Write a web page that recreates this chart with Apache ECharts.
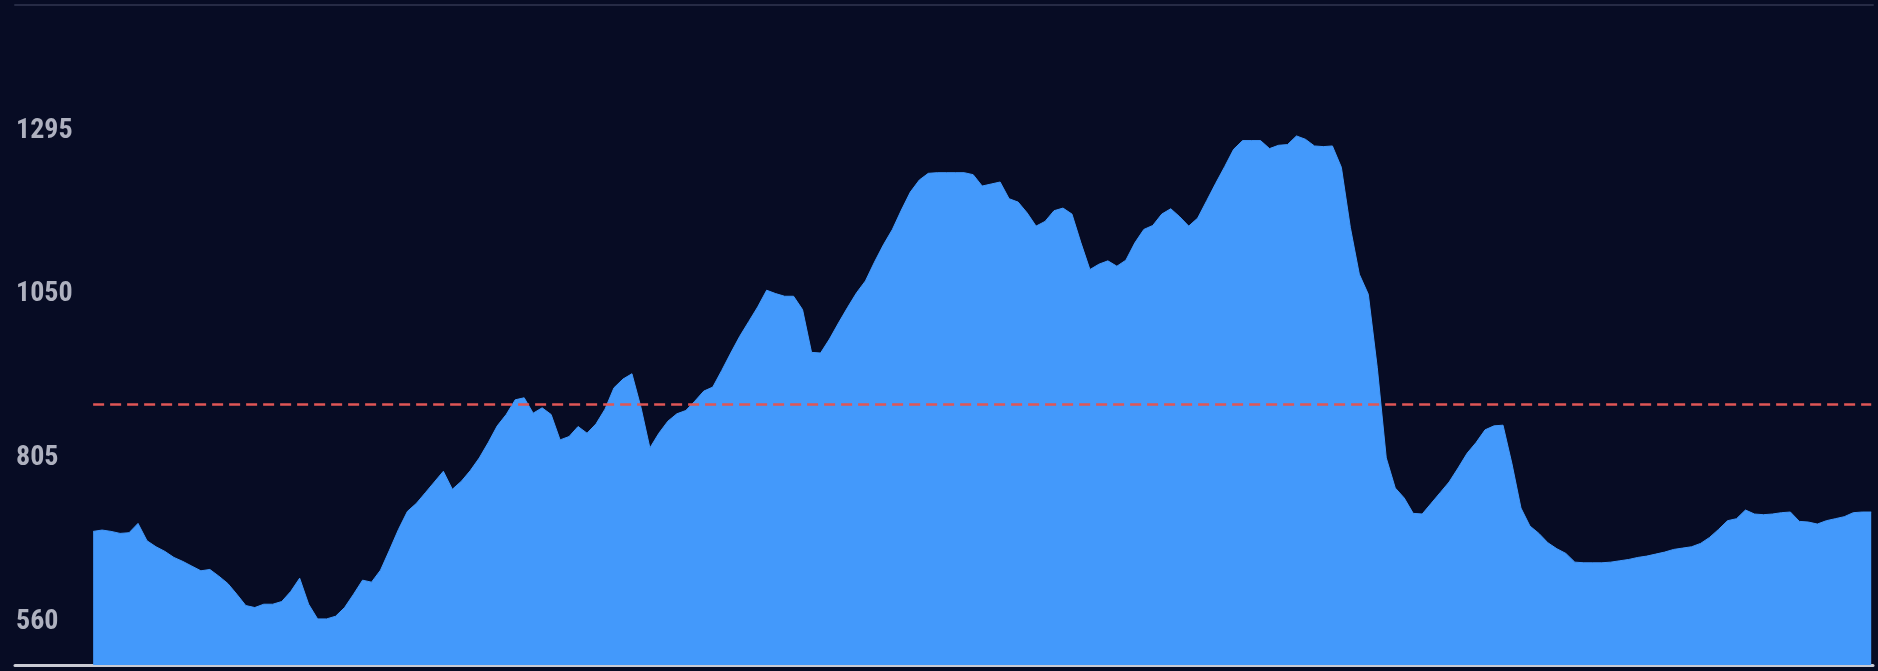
<!DOCTYPE html>
<html>
<head>
<meta charset="utf-8">
<title>area chart</title>
<script src="https://cdn.jsdelivr.net/npm/echarts@6/dist/echarts.min.js"></script>
<style>
  html, body { margin: 0; padding: 0; background: #070c24; }
  #main { width: 1878px; height: 671px; }
</style>
</head>
<body>
<div id="main"></div>
<script>
// values, left to right, evenly spaced
var values = [
  695, 697, 695, 692, 693, 707, 681, 672, 665, 656,
  650, 643, 636, 638, 628, 617, 601, 584, 581, 586,
  586, 590, 605, 625, 586, 564, 564, 568, 581, 601,
  622, 619, 637, 667, 698, 725, 737, 753, 769, 785,
  758, 770, 786, 805, 828, 853, 870, 892, 895, 872,
  880, 870, 832, 837, 852, 842, 856, 878, 910, 923,
  931, 881, 820, 842, 860, 871, 876, 890, 905, 911,
  936, 962, 987, 1009, 1031, 1056, 1051, 1047, 1047, 1027,
  963, 962, 983, 1007, 1030, 1052, 1070, 1098, 1124, 1147,
  1176, 1203, 1221, 1231, 1232, 1232, 1232, 1232, 1229, 1212,
  1215, 1218, 1193, 1188, 1172, 1152, 1159, 1175, 1179, 1170,
  1127, 1087, 1095, 1100, 1092, 1101, 1127, 1147, 1153, 1170,
  1178, 1166, 1152, 1164, 1190, 1216, 1241, 1267, 1280, 1280,
  1280, 1268, 1273, 1274, 1287, 1282, 1272, 1271, 1272, 1240,
  1150, 1080, 1050, 940, 805, 760, 745, 722, 721, 737,
  753, 769, 790, 812, 828, 847, 853, 854, 796, 730,
  703, 692, 678, 669, 662, 649, 648, 648, 648, 649,
  651, 653, 656, 658, 661, 664, 668, 670, 672, 677,
  686, 698, 711, 714, 727, 721, 720, 721, 723, 724,
  710, 709, 706, 711, 714, 717, 723, 724, 724
];
var tickLabels = [560, 805, 1050, 1295];
var threshold = 886;

var chart = echarts.init(document.getElementById('main'));

var points = values.map(function (v, i) { return [i, v]; });
var last = values.length - 1;

chart.setOption({
  backgroundColor: '#070c24',
  animation: false,
  grid: { left: 15, right: 5, top: 5, bottom: 6 },
  xAxis: [
    {
      type: 'value',
      position: 'bottom',
      min: -8.7,
      max: last + 0.2,
      axisLine: { show: true, lineStyle: { color: '#c9cbd4', width: 3 } },
      axisTick: { show: false },
      axisLabel: { show: false },
      splitLine: { show: false }
    },
    {
      type: 'value',
      position: 'top',
      min: -8.7,
      max: last + 0.2,
      axisLine: { show: true, lineStyle: { color: '#262b45', width: 2 } },
      axisTick: { show: false },
      axisLabel: { show: false },
      splitLine: { show: false }
    }
  ],
  yAxis: {
    type: 'value',
    min: 495,
    max: 1483,
    axisLine: { show: false },
    axisTick: { show: false },
    splitLine: { show: false },
    axisLabel: {
      inside: true,
      margin: 1,
      customValues: tickLabels,
      formatter: function (v) { return String(v); },
      padding: [10, 0, 0, 0],
      color: '#aeb1bf',
      fontSize: 28,
      fontWeight: 'bold',
      fontFamily: '"Roboto Condensed", "Liberation Sans Narrow", "DejaVu Sans Condensed", Roboto, sans-serif'
    }
  },
  series: [{
    type: 'line',
    data: points,
    symbol: 'none',
    lineStyle: { color: '#4399fb', width: 1 },
    areaStyle: { color: '#4399fb', opacity: 1 },
    markLine: {
      silent: true,
      symbol: 'none',
      label: { show: false },
      lineStyle: { color: '#e05656', type: [11, 6], width: 2.5 },
      data: [[{ coord: [0, threshold] }, { coord: [last, threshold] }]]
    }
  }]
});
</script>
</body>
</html>
